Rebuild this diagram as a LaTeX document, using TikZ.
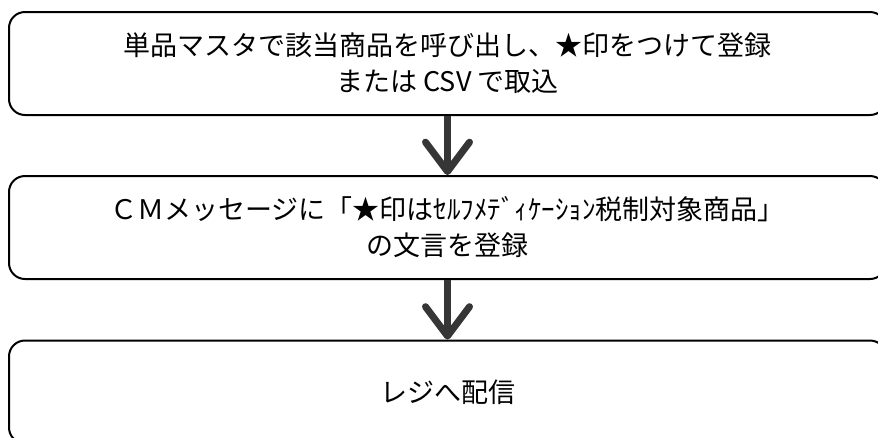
\documentclass[tikz,border=0pt]{standalone}
\usepackage{fontspec}
\newfontfamily\jpfont{Noto Sans CJK JP}
\usetikzlibrary{arrows.meta}
\definecolor{arrowgray}{HTML}{363636}

\begin{document}
\begin{tikzpicture}[
        x=0.75pt, y=-0.75pt,
        step_box/.style={rectangle, draw, line width=1.5pt, rounded corners=12pt, minimum width=657.75pt, minimum height=77.25pt, align=center, font=\jpfont\fontsize{20.25pt}{27pt}\selectfont},
        flow_arrow/.style={draw=arrowgray, line width=5.25pt, -{Straight Barb[length=22pt, width=33pt, round]}}
    ]
        \useasboundingbox (0,0) rectangle (878,437);

        % Steps
        \node[step_box] (star_register) at (447.5, 63.5) {単品マスタで該当商品を呼び出し、★印をつけて登録\\または CSV で取込};
        \node[step_box] (cm_message) at (447.5, 227.5) {ＣＭメッセージに「★印はｾﾙﾌﾒﾃﾞｨｹｰｼｮﾝ税制対象商品」\\の文言を登録};
        \node[step_box] (send_register) at (447.5, 392) {レジへ配信};

        % Arrows between steps
        \draw[flow_arrow] (star_register) -- (cm_message);
        \draw[flow_arrow] (cm_message) -- (send_register);

    \end{tikzpicture}
\end{document}
